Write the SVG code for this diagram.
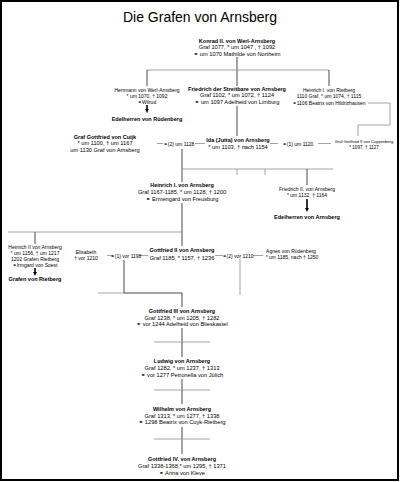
<svg xmlns="http://www.w3.org/2000/svg" width="400" height="482" viewBox="0 0 400 482">
<defs>
<style>
text{font-family:"Liberation Sans","DejaVu Sans",Arial,sans-serif;fill:#000;text-anchor:middle}
.t{font-size:14px}
.b{font-size:5.5px;font-weight:bold}
.r{font-size:5.7px}
.s{font-size:5px}
.v{stroke:#333;stroke-width:0.9;fill:none}
.h{stroke:#999;stroke-width:0.9;fill:none}
.a{stroke:#000;stroke-width:1.6;fill:none}
</style>
<marker id="ah" viewBox="0 0 6 6" refX="3" refY="3" markerWidth="2.4" markerHeight="2.4" orient="auto">
<path d="M0,0 L6,3 L0,6 Z" fill="#000"/>
</marker>
</defs>
<rect x="1" y="1" width="397" height="479" fill="#fff" stroke="#000" stroke-width="2"/>
<text class="t" x="200" y="22">Die Grafen von Arnsberg</text>

<g id="connectors">
<line class="v" x1="237" y1="57" x2="237" y2="86"/>
<line class="h" x1="147" y1="70" x2="329" y2="70"/>
<line class="v" x1="147" y1="70" x2="147" y2="86"/>
<line class="v" x1="329" y1="70" x2="329" y2="86"/>
<line class="v" x1="237" y1="106" x2="237" y2="136"/>
<line class="a" x1="147" y1="105" x2="147" y2="111" marker-end="url(#ah)"/>
<polyline class="h" points="368,103 390,103 390,125 358,125 358,136"/>
<line class="h" x1="157" y1="143.5" x2="163" y2="143.5"/>
<line class="h" x1="195" y1="143.5" x2="205" y2="143.5"/>
<line class="h" x1="270" y1="143.5" x2="278" y2="143.5"/>
<line class="h" x1="318" y1="143.5" x2="331" y2="143.5"/>
<line class="v" x1="182" y1="149" x2="182" y2="182"/>
<line class="h" x1="182" y1="169" x2="333" y2="169"/>
<line class="h" x1="237" y1="169" x2="237" y2="175"/>
<line class="h" x1="265" y1="169" x2="265" y2="175"/>
<line class="v" x1="307" y1="169" x2="307" y2="185"/>
<line class="a" x1="307" y1="199" x2="307" y2="210" marker-end="url(#ah)"/>
<line class="v" x1="182" y1="203" x2="182" y2="246"/>
<line class="h" x1="8" y1="232" x2="182" y2="232"/>
<line class="v" x1="35" y1="232" x2="35" y2="244"/>
<line class="a" x1="35" y1="268" x2="35" y2="274" marker-end="url(#ah)"/>
<line class="h" x1="107" y1="255.5" x2="113" y2="255.5"/>
<line class="h" x1="139" y1="255.5" x2="148" y2="255.5"/>
<line class="h" x1="215" y1="255.5" x2="223" y2="255.5"/>
<line class="h" x1="253" y1="255.5" x2="263" y2="255.5"/>
<polyline class="v" points="124,260 124,293 182,293 182,307"/>
<line class="h" x1="98" y1="293" x2="124" y2="293"/>
<line class="h" x1="240" y1="259" x2="240" y2="295"/>
<line class="v" x1="182" y1="328" x2="182" y2="357"/>
<line class="h" x1="154" y1="342" x2="210" y2="342"/>
<line class="v" x1="182" y1="379" x2="182" y2="404"/>
<line class="h" x1="154" y1="390" x2="210" y2="390"/>
<line class="v" x1="182" y1="427" x2="182" y2="454"/>
<line class="h" x1="154" y1="439" x2="210" y2="439"/>
</g>

<g id="konrad">
<text class="b" x="237" y="43">Konrad II. von Werl-Arnsberg</text>
<text class="r" x="237" y="49">Graf 1077, * um 1047 , † 1092</text>
<text class="r" x="237" y="55.5">⚭ um 1070 Mathilde von Northeim</text>
</g>
<g id="herrmann">
<text class="s" x="147" y="92">Herrmann von Werl-Arnsberg</text>
<text class="s" x="147" y="98">* um 1070, † 1092</text>
<text class="s" x="147" y="104">⚭Wilrud</text>
</g>
<g id="edelherren-ruedenberg">
<text class="b" x="147" y="121">Edelherren von Rüdenberg</text>
</g>
<g id="friedrich-streitbare">
<text class="b" x="237" y="91">Friedrich der Streitbare von Arnsberg</text>
<text class="r" x="237" y="97">Graf 1102, * um 1072, † 1124</text>
<text class="r" x="237" y="104">⚭ um  1097 Adelheid von Limburg</text>
</g>
<g id="heinrich-rietberg">
<text class="s" x="329" y="92">Heinrich I. von Rietberg</text>
<text class="s" x="329" y="98">1110 Graf, * um 1074, † 1115</text>
<text class="s" x="329" y="105">⚭1106 Beatrix von Hildrizhausen</text>
</g>
<g id="gottfried-cuijk">
<text class="b" x="105" y="139">Graf Gottfried von Cuijk</text>
<text class="r" x="105" y="145">* um 1100, † um 1167</text>
<text class="r" x="105" y="152">um 1130 Graf von Arnsberg</text>
</g>
<g id="marriage-1128">
<text class="s" x="179" y="145.5">⚭(2) um 1128</text>
</g>
<g id="ida">
<text class="b" x="238" y="142">Ida (Jutta) von Arnsberg</text>
<text class="r" x="238" y="148.5">* um 1103, † nach 1154</text>
</g>
<g id="marriage-1120">
<text class="s" x="298" y="145.5">⚭(1) um 1120</text>
</g>
<g id="gottfried-cappenberg">
<text x="364" y="142.5" style="font-size:4px">Graf Gottfried II von Cappenberg</text>
<text x="364" y="148.5" style="font-size:4.6px">* 1097, † 1127</text>
</g>
<g id="heinrich-i">
<text class="b" x="182" y="187">Heinrich I. von Arnsberg</text>
<text class="r" x="182" y="194">Graf 1167-1185, * um 1128, † 1200</text>
<text class="r" x="182" y="201">⚭ Ermengard von Freusburg</text>
</g>
<g id="friedrich-ii">
<text class="s" x="307" y="191">Friedrich II. von Arnsberg</text>
<text class="s" x="307" y="197">* um 1132, † 1164</text>
</g>
<g id="edelherren-arnsberg">
<text class="b" x="307" y="219">Edelherren von Arnsberg</text>
</g>
<g id="heinrich-ii">
<text class="s" x="35" y="249">Heinrich II von Arnsberg</text>
<text class="s" x="35" y="255">* um 1156, † um 1217</text>
<text class="s" x="35" y="261">1202 Grafen Rietberg</text>
<text class="s" x="35" y="267">⚭Irmgard von Soest</text>
</g>
<g id="grafen-rietberg">
<text class="b" x="35" y="281">Grafen von Rietberg</text>
</g>
<g id="elisabeth">
<text class="s" x="86" y="254">Elisabeth</text>
<text class="s" x="86" y="260">† vor 1210</text>
</g>
<g id="marriage-1198">
<text class="s" x="126" y="257.5">⚭(1) vor 1198</text>
</g>
<g id="gottfried-ii">
<text class="b" x="182" y="252">Gottfried II von Arnsberg</text>
<text class="r" x="182" y="259.5">Graf 1185, * 1157, † 1236</text>
</g>
<g id="marriage-1210">
<text class="s" x="238" y="257.5">⚭(2) vor 1210</text>
</g>
<g id="agnes">
<text class="s" x="291" y="253">Agnes von Rüdenberg</text>
<text class="s" x="292" y="259">* um 1185, nach † 1250</text>
</g>
<g id="gottfried-iii">
<text class="b" x="182" y="313">Gottfried III von Arnsberg</text>
<text class="r" x="182" y="319.5">Graf 1238, * um 1205, † 1282</text>
<text class="r" x="182" y="326">⚭ vor 1244 Adelheid von Blieskastel</text>
</g>
<g id="ludwig">
<text class="b" x="182" y="363">Ludwig von Arnsberg</text>
<text class="r" x="182" y="370">Graf 1282, * um 1237, † 1313</text>
<text class="r" x="182" y="377">⚭ vor 1277 Petronella von Jülich</text>
</g>
<g id="wilhelm">
<text class="b" x="182" y="411">Wilhelm von Arnsberg</text>
<text class="r" x="182" y="417.5">Graf 1313, * um 1277, † 1338</text>
<text class="r" x="182" y="424">⚭ 1298 Beatrix von Cuyk-Rietberg</text>
</g>
<g id="gottfried-iv">
<text class="b" x="182" y="461">Gottfried IV. von Arnsberg</text>
<text class="r" x="182" y="468">Graf 1338-1368,* um 1295, † 1371</text>
<text class="r" x="182" y="475">⚭ Anna von Kleve</text>
</g>
</svg>
